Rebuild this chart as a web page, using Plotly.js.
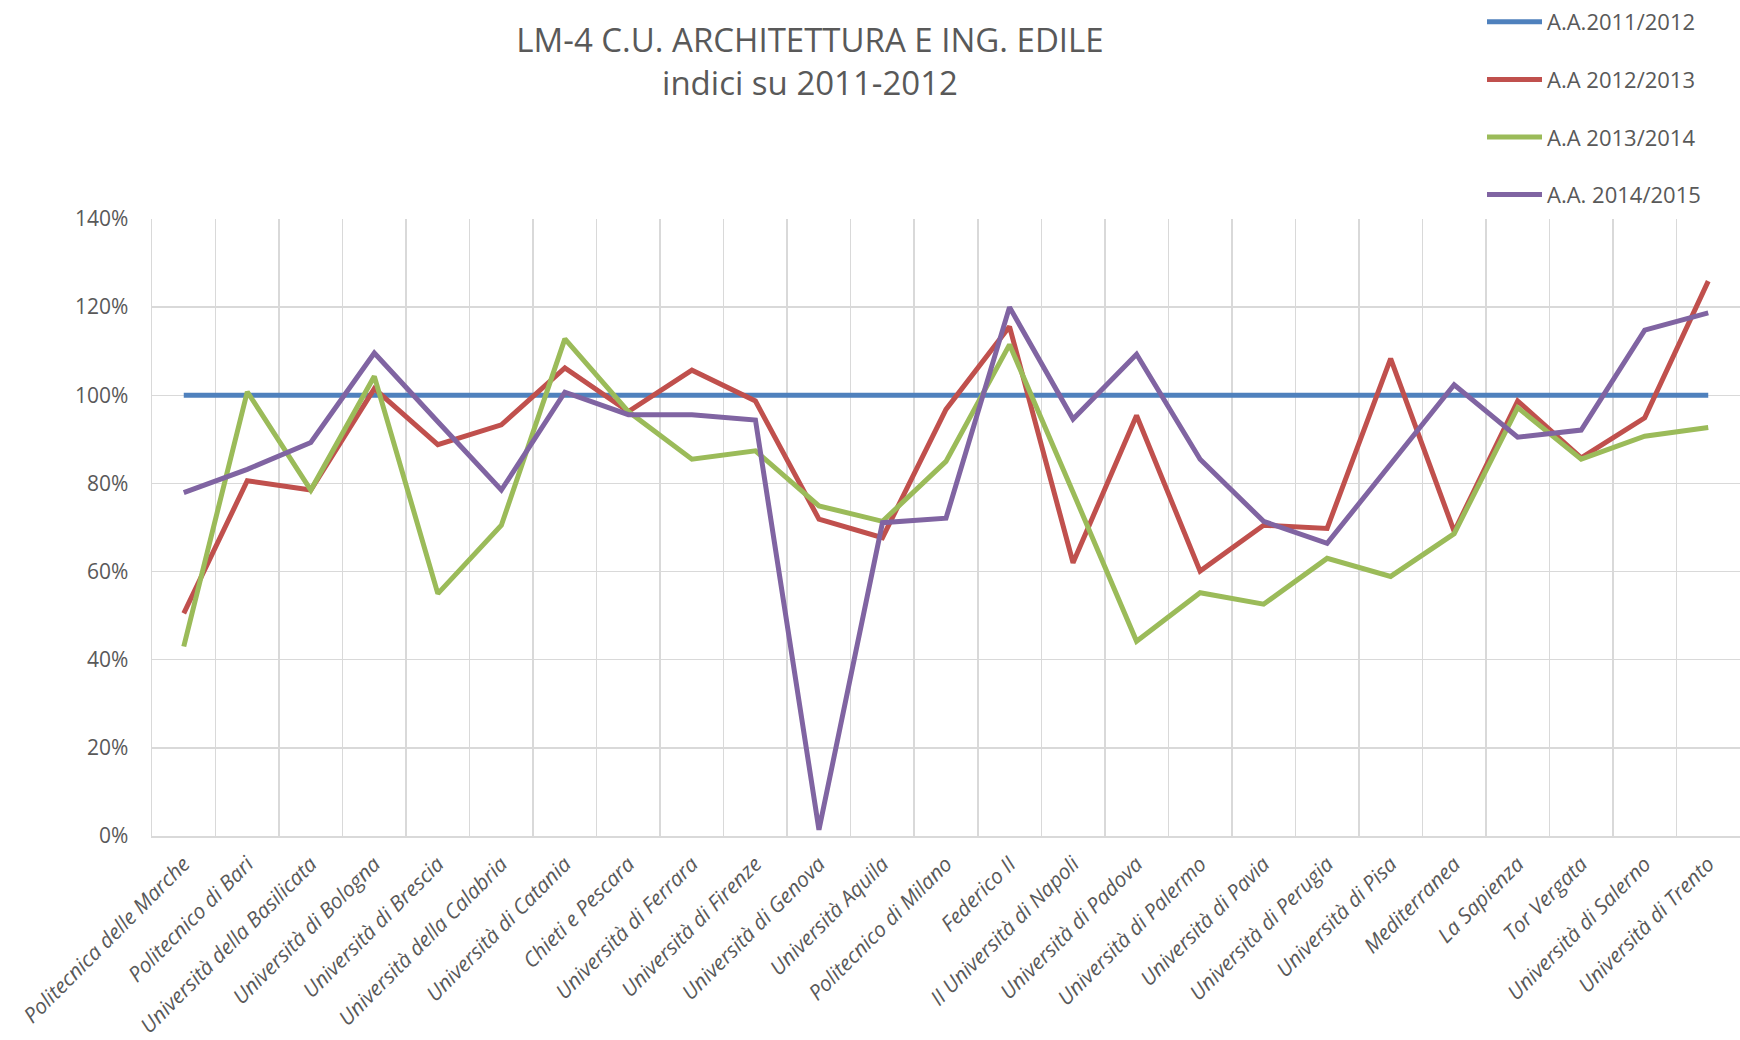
<!DOCTYPE html>
<html>
<head>
<meta charset="utf-8">
<script src="https://cdn.plot.ly/plotly-3.0.1.min.js"></script>
<style>html,body{margin:0;padding:0;background:#fff;}#chart{width:1740px;height:1040px;}</style>
</head>
<body>
<div id="chart"></div>
<script>
const categories = ["Politecnica delle Marche","Politecnico di Bari","Università della Basilicata","Università di Bologna","Università di Brescia","Università della Calabria","Università di Catania","Chieti e Pescara","Università di Ferrara","Università di Firenze","Università di Genova","Università Aquila","Politecnico di Milano","Federico II","II Università di Napoli","Università di Padova","Università di Palermo","Università di Pavia","Università di Perugia","Università di Pisa","Mediterranea","La Sapienza","Tor Vergata","Università di Salerno","Università di Trento"];

const seriesNames = ["A.A.2011/2012","A.A 2012/2013","A.A 2013/2014","A.A. 2014/2015"];

const aa2011 = [100,100,100,100,100,100,100,100,100,100,100,100,100,100,100,100,100,100,100,100,100,100,100,100,100];
const aa2012 = [50.5,80.6,78.5,101.5,88.8,93.3,106.2,96.3,105.7,98.7,71.9,67.7,96.8,115.6,62.0,95.4,60.1,70.5,69.8,108.3,69.1,98.7,85.8,94.9,125.9];
const aa2013 = [43.0,100.8,78.5,104.3,55.0,70.5,112.8,96.3,85.5,87.4,74.9,71.4,85.0,111.5,78.0,44.2,55.2,52.6,63.0,58.9,68.6,97.2,85.5,90.7,92.7];
const aa2014 = [77.9,83.2,89.3,109.6,94.0,78.5,100.7,95.6,95.6,94.4,1.4,71.1,72.1,120.0,94.6,109.3,85.5,71.4,66.4,84.5,102.4,90.5,92.1,114.8,118.7];

const yTicks = [0,20,40,60,80,100,120,140];
const yTickText = ["0%","20%","40%","60%","80%","100%","120%","140%"];

const colors = ["#4f81bd","#c0504d","#9bbb59","#8064a2"];
const allSeries = [aa2011, aa2012, aa2013, aa2014];

const traces = allSeries.map((vals, i) => ({
  type: "scatter",
  mode: "lines",
  x: categories,
  y: vals,
  name: seriesNames[i],
  legendgroup: "g" + i,
  line: {color: colors[i], width: 5, shape: "linear"},
  hoverinfo: "x+y+name"
}));

const FONT = "Open Sans, DejaVu Sans, sans-serif";
const gridC = "#d9d9d9";

const layout = {
  width: 1740,
  height: 1040,
  paper_bgcolor: "#ffffff",
  plot_bgcolor: "#ffffff",
  margin: {l: 152, r: 0, t: 218.5, b: 203.5, pad: 0, autoexpand: false},
  font: {family: FONT, color: "#595959", size: 21},
  title: {
    text: "LM-4 C.U. ARCHITETTURA E ING. EDILE<br>indici su 2011-2012",
    font: {family: FONT, size: 33, color: "#595959"},
    xref: "container", yref: "container",
    x: 810/1740, xanchor: "center",
    y: 1 - 52/1040, yanchor: "middle"
  },
  showlegend: true,
  legend: {
    xref: "container", yref: "container",
    x: 1482/1740, xanchor: "left",
    y: 1 - 1/1040, yanchor: "top",
    orientation: "v",
    tracegroupgap: 26,
    font: {family: FONT, size: 22, color: "#595959"},
    bgcolor: "rgba(0,0,0,0)",
    borderwidth: 0,
    itemwidth: 55
  },
  xaxis: {
    type: "category",
    range: [-0.5, categories.length - 0.5],
    tickson: "boundaries",
    showgrid: true,
    gridcolor: gridC,
    gridwidth: 1.5,
    showline: true,
    linecolor: gridC,
    linewidth: 1.5,
    ticks: "",
    tickangle: -45,
    tickfont: {family: FONT, size: 21, color: "#595959", style: "italic"},
    ticklabelstandoff: 6,
    automargin: false,
    fixedrange: true
  },
  yaxis: {
    range: [0, 140],
    tickvals: yTicks,
    ticktext: yTickText,
    showgrid: true,
    gridcolor: gridC,
    gridwidth: 1.5,
    zeroline: false,
    showline: true,
    linecolor: gridC,
    linewidth: 1.5,
    ticks: "",
    tickfont: {family: FONT, size: 21, color: "#595959"},
    ticklabelstandoff: 18,
    automargin: false,
    fixedrange: true
  }
};

Plotly.newPlot("chart", traces, layout, {displayModeBar: false, staticPlot: true});
</script>
</body>
</html>
